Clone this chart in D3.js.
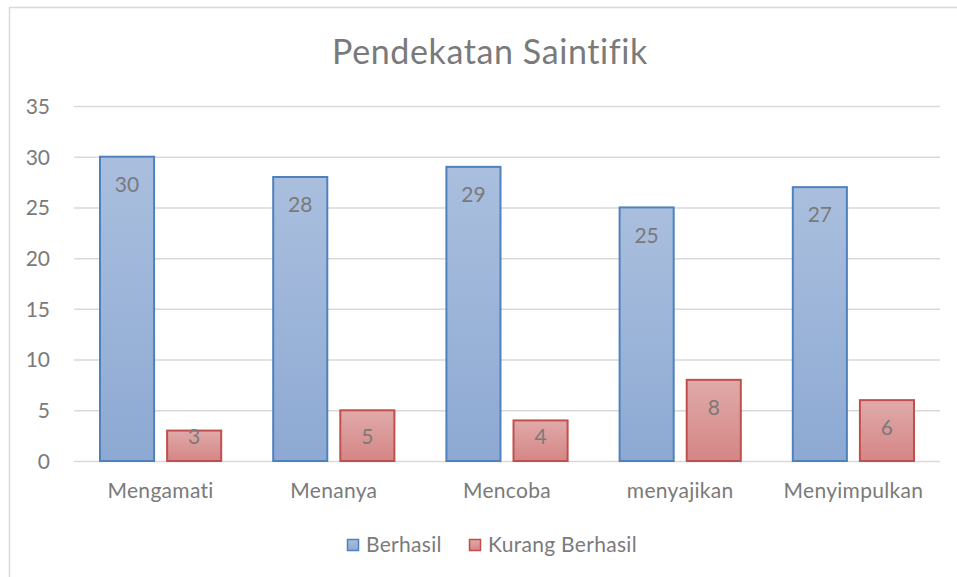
<!DOCTYPE html>
<html>
<head>
<meta charset="utf-8">
<script src="https://cdn.jsdelivr.net/npm/d3@7"></script>
<style>
  body { margin: 0; background: #fff; }
  svg text { font-family: Lato, "Open Sans", sans-serif; fill: #7a7a7a; font-variant-ligatures: none; }
</style>
</head>
<body>
<div class="chartDiv"></div>
<script>
"use strict";

// Data:
var categories = ["Mengamati", "Menanya", "Mencoba", "menyajikan", "Menyimpulkan"];
var berhasil = [30, 28, 29, 25, 27];
var kurangBerhasil = [3, 5, 4, 8, 6];
var seriesNames = ["Berhasil", "Kurang Berhasil"];
var yTicks = [0, 5, 10, 15, 20, 25, 30, 35];

// SVG properties:
var width = 957, height = 577;
var plot = { left: 74, right: 940, top: 106, bottom: 461 };

var svg = d3.select(".chartDiv").append("svg")
    .attr("width", width)
    .attr("height", height);

// gradients
var defs = svg.append("defs");
var grads = [
    { id: "gBlue", top: "#aabfde", bottom: "#8da9d3" },
    { id: "gRed", top: "#e0aaa9", bottom: "#d48685" }
];
grads.forEach(function(g)
{
    var lg = defs.append("linearGradient").attr("id", g.id)
        .attr("x1", 0).attr("y1", 0).attr("x2", 0).attr("y2", 1);
    lg.append("stop").attr("offset", "0%").attr("stop-color", g.top);
    lg.append("stop").attr("offset", "100%").attr("stop-color", g.bottom);
});

// chart border
svg.append("rect")
    .attr("x", 9.5).attr("y", 7.5)
    .attr("width", 960).attr("height", 600)
    .attr("fill", "none")
    .attr("stroke", "#d9d9d9")
    .attr("stroke-width", 1.5);

// title
svg.append("text")
    .attr("x", 490).attr("y", 64)
    .attr("text-anchor", "middle")
    .style("font-size", "34px")
    .style("letter-spacing", "0.6px")
    .text("Pendekatan Saintifik");

var y = d3.scaleLinear().domain([0, 35]).range([plot.bottom, plot.top]);
var x0 = d3.scaleBand().domain(categories).range([plot.left, plot.right]);
var x1 = d3.scaleBand().domain(seriesNames).range([26, x0.bandwidth() - 26]).paddingInner(0.194);

// gridlines
svg.append("g").selectAll("line")
    .data(yTicks).enter()
    .append("line")
    .attr("x1", plot.left).attr("x2", plot.right)
    .attr("y1", function(d) { return y(d) + 0.5; })
    .attr("y2", function(d) { return y(d) + 0.5; })
    .attr("stroke", "#d9d9d9")
    .attr("stroke-width", 1.5);

// y axis labels
var yAxis = d3.axisLeft(y).tickValues(yTicks).tickSize(0).tickPadding(0);
var yG = svg.append("g")
    .attr("transform", "translate(50,0)")
    .call(yAxis);
yG.select(".domain").remove();
yG.selectAll("text")
    .attr("fill", null)
    .style("font-size", "21px")
    .attr("dy", "0.35em");

// x axis labels
var xAxis = d3.axisBottom(x0).tickSize(0).tickPadding(0);
var xG = svg.append("g")
    .attr("transform", "translate(0,491)")
    .call(xAxis);
xG.select(".domain").remove();
xG.selectAll("text")
    .attr("fill", null)
    .attr("y", 0)
    .attr("dy", "0.35em")
    .style("font-size", "21px")
    .style("letter-spacing", "0.3px");

// bars
var rows = categories.map(function(c, i)
{
    return [
        { cat: c, series: "Berhasil", value: berhasil[i] },
        { cat: c, series: "Kurang Berhasil", value: kurangBerhasil[i] }
    ];
});
var fills = { "Berhasil": "url(#gBlue)", "Kurang Berhasil": "url(#gRed)" };
var strokes = { "Berhasil": "#4f81bd", "Kurang Berhasil": "#c0504d" };

var groups = svg.append("g").selectAll("g")
    .data(rows).enter()
    .append("g")
    .attr("transform", function(d) { return "translate(" + x0(d[0].cat) + ",0)"; });

groups.selectAll("rect")
    .data(function(d) { return d; }).enter()
    .append("rect")
    .attr("x", function(d) { return x1(d.series); })
    .attr("y", function(d) { return y(d.value); })
    .attr("width", x1.bandwidth())
    .attr("height", function(d) { return y(0) - y(d.value); })
    .attr("fill", function(d) { return fills[d.series]; })
    .attr("stroke", function(d) { return strokes[d.series]; })
    .attr("stroke-width", 2);

// value labels
groups.selectAll("text")
    .data(function(d) { return d; }).enter()
    .append("text")
    .attr("x", function(d) { return x1(d.series) + x1.bandwidth() / 2; })
    .attr("y", function(d) { return Math.min(y(d.value) + 28, y(0) - 24); })
    .attr("dy", "0.35em")
    .attr("text-anchor", "middle")
    .style("font-size", "21px")
    .text(function(d) { return d.value; });

// legend
var legendItems = [
    { name: "Berhasil", x: 347 },
    { name: "Kurang Berhasil", x: 469 }
];
var legend = svg.append("g").selectAll("g")
    .data(legendItems).enter()
    .append("g")
    .attr("transform", function(d) { return "translate(" + d.x + ",539)"; });
legend.append("rect")
    .attr("x", 0.5).attr("y", 0.5)
    .attr("width", 11).attr("height", 11)
    .attr("fill", function(d) { return fills[d.name]; })
    .attr("stroke", function(d) { return strokes[d.name]; })
    .attr("stroke-width", 1.5);
legend.append("text")
    .attr("x", 19).attr("y", 6)
    .attr("dy", "0.35em")
    .style("font-size", "21px")
    .style("letter-spacing", "0.3px")
    .text(function(d) { return d.name; });
</script>
</body>
</html>
